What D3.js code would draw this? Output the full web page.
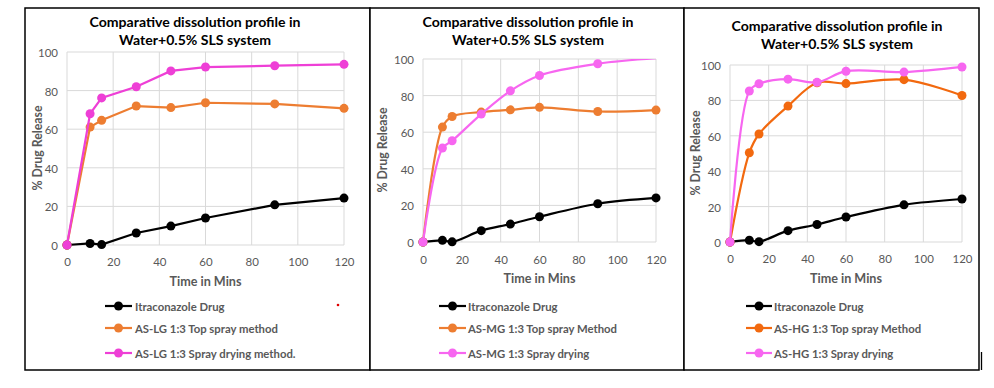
<!DOCTYPE html>
<html><head><meta charset="utf-8">
<script src="https://cdn.jsdelivr.net/npm/d3@7/dist/d3.min.js"></script>
<style>body{margin:0;background:#fff}svg{display:block}</style>
</head><body>
<svg id="c" width="994" height="388"></svg>
<script>
// ---- data ----
const times = [0, 10, 15, 30, 45, 60, 90, 120];
const xTicks = [0, 20, 40, 60, 80, 100, 120];
const yTicks = [0, 20, 40, 60, 80, 100];
const titleLines = ["Comparative dissolution profile in", "Water+0.5% SLS system"];
const xTitle = "Time in Mins";
const yTitle = "% Drug Release";

const itraconazole1 = [0, 0.8, 0.2, 6.2, 9.8, 14.0, 20.8, 24.3];
const lgTop = [0, 61.1, 64.6, 72.0, 71.2, 73.7, 73.1, 70.8];
const lgSpray = [0, 68.0, 76.2, 82.0, 90.2, 92.2, 92.9, 93.6];

const itraconazole2 = [0, 0.9, 0.1, 6.2, 9.8, 13.8, 20.9, 24.1];
const mgTop = [0, 62.8, 68.6, 71.0, 72.2, 73.6, 71.3, 72.1];
const mgSpray = [0, 51.3, 55.3, 69.9, 82.6, 91.0, 97.4, 100.4];

const itraconazole3 = [0, 1.0, 0.2, 6.4, 9.9, 14.1, 21.0, 24.3];
const hgTop = [0, 50.4, 61.0, 76.8, 90.0, 89.5, 91.7, 82.8];
const hgSpray = [0, 85.3, 89.4, 92.0, 90.2, 96.5, 96.0, 98.9];

const legend1 = ["Itraconazole Drug", "AS-LG 1:3 Top spray method", "AS-LG 1:3 Spray drying method."];
const legend2 = ["Itraconazole Drug", "AS-MG 1:3 Top spray Method", "AS-MG 1:3 Spray drying"];
const legend3 = ["Itraconazole Drug", "AS-HG 1:3 Top spray Method", "AS-HG 1:3 Spray drying"];

// ---- layout / style ----
const panels = [
  {box:[25,8,370,370], px:[67,344], py:[245,52], tY:[21,39], tX:195, xtY:261, xtT:281, ylX:37, ylY:148,
   legX:[105,132,135], legY:[306,328,353], curve:d3.curveLinear,
   series:[itraconazole1, lgTop, lgSpray], legend:legend1, colors:["#000000","#ED7D31","#EE3FD6"]},
  {box:[370,8,684,370], px:[423,656], py:[242,59], tY:[21,39], tX:528, xtY:259, xtT:278, ylX:382, ylY:150,
   legX:[439,466,468], legY:[306,328,353], curve:d3.curveCatmullRom.alpha(0.5),
   series:[itraconazole2, mgTop, mgSpray], legend:legend2, colors:["#000000","#ED7D31","#F766F0"]},
  {box:[684,8,979,370], px:[730,962], py:[242,65], tY:[25,43], tX:837, xtY:258, xtT:278, ylX:695, ylY:153,
   legX:[746,772,774], legY:[306,328,353], curve:d3.curveCatmullRom.alpha(0.5),
   series:[itraconazole3, hgTop, hgSpray], legend:legend3, colors:["#000000","#F2690F","#F766F0"]}
];

const FONT = "Lato, 'Open Sans', sans-serif";
const svg = d3.select("#c");

// fit font size to a target pixel width
function fitSize(text, weight, target) {
  const t = svg.append("text").attr("font-family", FONT).attr("font-weight", weight)
    .attr("font-size", 20).text(text);
  const w = t.node().getComputedTextLength();
  t.remove();
  return 20 * target / w;
}
const titleSize = fitSize(titleLines[0], "bold", 211);
const legSize = fitSize("AS-LG 1:3 Top spray method", "bold", 143);
const xtSize = fitSize(xTitle, "bold", 72);
const ylSize = fitSize(yTitle, "bold", 85);
const tickSize = fitSize("100", "normal", 20);

panels.forEach((p, pi) => {
  const g = svg.append("g");
  const [bx0, by0, bx1, by1] = p.box;
  g.append("rect").attr("x", bx0).attr("y", by0).attr("width", bx1 - bx0).attr("height", by1 - by0)
    .attr("fill", "#fff").attr("stroke", "#000").attr("stroke-width", 1.5);

  const x = d3.scaleLinear().domain([0, 120]).range(p.px);
  const y = d3.scaleLinear().domain([0, 100]).range(p.py);

  // grid
  const grid = g.append("g");
  grid.selectAll("line.v").data(xTicks).join("line")
    .attr("x1", d => x(d)).attr("x2", d => x(d)).attr("y1", y(0)).attr("y2", y(100))
    .attr("stroke", "#d9d9d9").attr("stroke-width", 1);
  grid.selectAll("line.h").data(yTicks).join("line")
    .attr("x1", x(0)).attr("x2", x(120)).attr("y1", d => y(d)).attr("y2", d => y(d))
    .attr("stroke", "#d9d9d9").attr("stroke-width", 1);

  // axes via d3 axis (labels only)
  const xa = g.append("g").attr("transform", `translate(0,${p.xtY})`)
    .call(d3.axisBottom(x).tickValues(xTicks).tickSize(0).tickPadding(0));
  xa.select(".domain").remove();
  xa.selectAll("text").attr("font-family", FONT).attr("font-size", tickSize).attr("fill", "#595959")
    .attr("dy", null).attr("dominant-baseline", "central");
  const ya = g.append("g").attr("transform", `translate(${p.px[0] - 9},0)`)
    .call(d3.axisLeft(y).tickValues(yTicks).tickSize(0).tickPadding(0));
  ya.select(".domain").remove();
  ya.selectAll("text").attr("font-family", FONT).attr("font-size", tickSize).attr("fill", "#595959")
    .attr("dy", null).attr("dominant-baseline", "central");

  // titles
  titleLines.forEach((t, i) => {
    g.append("text").attr("x", p.tX).attr("y", p.tY[i]).attr("text-anchor", "middle")
      .attr("dominant-baseline", "central").attr("font-family", FONT).attr("font-weight", "bold")
      .attr("font-size", titleSize).attr("fill", "#000").text(t);
  });
  g.append("text").attr("x", (p.px[0] + p.px[1]) / 2).attr("y", p.xtT).attr("text-anchor", "middle")
    .attr("dominant-baseline", "central").attr("font-family", FONT).attr("font-weight", "bold")
    .attr("font-size", xtSize).attr("fill", "#595959").text(xTitle);
  g.append("text").attr("transform", `translate(${p.ylX},${p.ylY}) rotate(-90)`).attr("text-anchor", "middle")
    .attr("dominant-baseline", "central").attr("font-family", FONT).attr("font-weight", "bold")
    .attr("font-size", ylSize).attr("fill", "#595959").text(yTitle);

  // clip at top of plot
  const cid = "clip" + pi;
  g.append("clipPath").attr("id", cid).append("rect")
    .attr("x", p.px[0] - 10).attr("y", p.py[1]).attr("width", p.px[1] - p.px[0] + 20)
    .attr("height", p.py[0] - p.py[1] + 10);

  const line = d3.line().x((d, i) => x(times[i])).y(d => y(d)).curve(p.curve);
  const plot = g.append("g");
  p.series.forEach((s, si) => {
    plot.append("path").attr("d", line(s)).attr("fill", "none").attr("stroke", p.colors[si])
      .attr("stroke-width", 2.2).attr("clip-path", `url(#${cid})`);
    plot.selectAll(null).data(s.map((v, i) => [times[i], v]).filter(d => d[1] <= 100)).join("circle")
      .attr("cx", d => x(d[0])).attr("cy", d => y(d[1])).attr("r", 4.5).attr("fill", p.colors[si]);
  });

  // legend
  p.legend.forEach((t, i) => {
    const ly = p.legY[i];
    g.append("line").attr("x1", p.legX[0]).attr("x2", p.legX[1]).attr("y1", ly).attr("y2", ly)
      .attr("stroke", p.colors[i]).attr("stroke-width", 2.2);
    g.append("circle").attr("cx", (p.legX[0] + p.legX[1]) / 2).attr("cy", ly).attr("r", 4.5).attr("fill", p.colors[i]);
    g.append("text").attr("x", p.legX[2]).attr("y", ly).attr("dominant-baseline", "central")
      .attr("font-family", FONT).attr("font-weight", "bold").attr("font-size", legSize)
      .attr("fill", "#595959").text(t);
  });
});

// small stray marks seen in the reference
svg.append("circle").attr("cx", 338).attr("cy", 305).attr("r", 1.3).attr("fill", "#e00000");
svg.append("line").attr("x1", 981.5).attr("x2", 981.5).attr("y1", 352).attr("y2", 370)
  .attr("stroke", "#000").attr("stroke-width", 1.3);
</script>
</body></html>
